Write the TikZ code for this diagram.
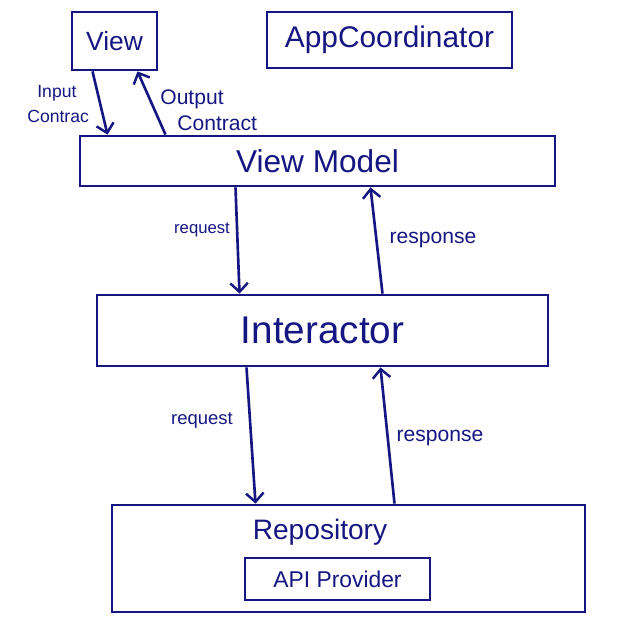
\documentclass[tikz,border=0pt]{standalone}
\usepackage{fontspec}
\setmainfont{Liberation Sans}
\usepackage{xcolor}
\usepackage{tikz}
\usetikzlibrary{arrows.meta, positioning, calc}
\definecolor{ink}{RGB}{22,22,130}

\begin{document}
\begin{tikzpicture}[
  x=0.02cm, y=-0.02cm,
  box/.style={rectangle, draw=ink, line width=1.6pt, text=ink, inner sep=0pt},
  arrow/.style={-{Straight Barb[length=5pt, width=10pt, line width=1.4pt]}, draw=ink, line width=1.5pt},
  lbl/.style={text=ink, align=center, inner sep=0pt},
]
  \useasboundingbox (0,0) rectangle (634,640);

  \node[box, minimum width=1.7cm, minimum height=1.16cm, font=\fontsize{15}{18}\selectfont] (view) at (114.5,41) {View};
  \node[box, minimum width=4.9cm, minimum height=1.12cm, font=\fontsize{17}{20}\selectfont] (app) at (389.5,40) {AppCoordinator};
  \node[box, minimum width=9.5cm, minimum height=1.0cm, font=\fontsize{18}{21}\selectfont] (vm) at (317.5,161) {View Model};
  \node[box, minimum width=9.02cm, minimum height=1.42cm, font=\fontsize{22}{26}\selectfont] (inter) at (322.5,330.5) {Interactor};
  \node[box, minimum width=9.46cm, minimum height=2.14cm] (repo) at (348.5,558.5) {};
  \node[lbl, font=\fontsize{16}{19}\selectfont] (repotext) at (320,532) {Repository};
  \node[box, minimum width=3.7cm, minimum height=0.84cm, font=\fontsize{13}{16}\selectfont] (api) at (337.5,579) {API Provider};

  \draw[arrow] ($(view.south)+(-22,0)$) -- ($(vm.north)+(-210,0)$);
  \draw[arrow] ($(vm.north)+(-152,0)$) -- ($(view.south)+(23,0)$);
  \draw[arrow] ($(vm.south)+(-82,0)$) -- ($(inter.north)+(-83,0)$);
  \draw[arrow] ($(inter.north)+(60,0)$) -- ($(vm.south)+(53,0)$);
  \draw[arrow] ($(inter.south)+(-76,0)$) -- ($(repo.north)+(-93,0)$);
  \draw[arrow] ($(repo.north)+(46,0)$) -- ($(inter.south)+(58,0)$);

  \node[lbl, align=left, anchor=west, font=\fontsize{10}{14}\selectfont] (inlbl) at (27,104) {\hspace{0.2cm}Input\\Contrac};
  \node[lbl, align=left, anchor=west, font=\fontsize{12}{15}\selectfont] (outlbl) at (160,110) {Output\\\hspace{0.34cm}Contract};
  \node[lbl, font=\fontsize{9.5}{11}\selectfont] (req1) at (202,230) {request};
  \node[lbl, font=\fontsize{12}{14}\selectfont] (resp1) at (433,240) {response};
  \node[lbl, font=\fontsize{10.5}{12}\selectfont] (req2) at (202,420) {request};
  \node[lbl, font=\fontsize{12}{14}\selectfont] (resp2) at (440,438) {response};
\end{tikzpicture}
\end{document}
